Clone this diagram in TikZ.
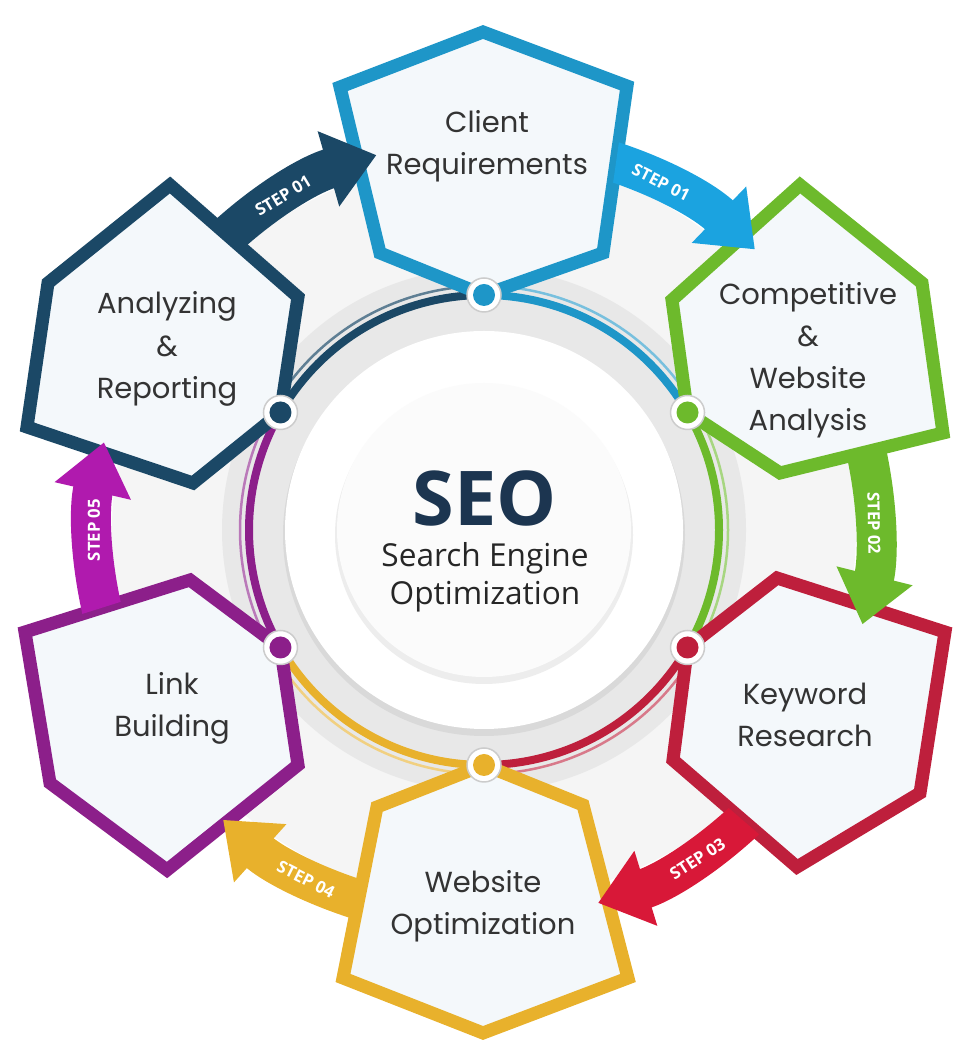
\documentclass[tikz,border=0pt]{standalone}
\usepackage{fontspec}
\setmainfont{Poppins}
\newfontfamily\seofont{Open Sans}
\usetikzlibrary{calc}
\usetikzlibrary{arrows.meta}

\definecolor{clientblue}{HTML}{1E96C8}
\definecolor{stepblue}{HTML}{1BA3E0}
\definecolor{darkteal}{HTML}{1B4866}
\definecolor{compgreen}{HTML}{6DBA2C}
\definecolor{keyred}{HTML}{BE1F3C}
\definecolor{stepred}{HTML}{D81838}
\definecolor{webyellow}{HTML}{E8B12C}
\definecolor{linkpurple}{HTML}{8C1F8A}
\definecolor{steppurple}{HTML}{B01AAE}
\definecolor{hexfill}{HTML}{F4F8FB}
\definecolor{seonavy}{HTML}{1C3550}

\tikzset{
  hexline/.style={line width=2.6mm, line join=miter, fill=hexfill},
  hexlabel/.style={align=center, text=black!80, font=\fontsize{16.5}{24}\selectfont},
  steparrow/.style={line width=8mm, -{Triangle[width=15mm,length=10mm]}},
  steplabel/.style={text=white, font=\seofont\bfseries\fontsize{9.5}{11}\selectfont},
  ringarc/.style={line width=1.6mm},
  ringhalo/.style={line width=0.5mm}
}

\begin{document}
\begin{tikzpicture}[x=0.2mm, y=0.2mm]
  \useasboundingbox (0,0) rectangle (976,1064);
  \coordinate (O) at (484,534);

  % background disks
  \fill[gray!8] (O) circle (372);
  \fill[gray!18] (O) circle (262);
  \fill[gray!30] ($(O)+(0,-5)$) circle (201);
  \fill[white] (O) circle (199);
  \fill[gray!14] ($(O)+(0,-5)$) circle (149);
  \fill[gray!3] (O) circle (147);

  % ring between the steps
  \draw[ringarc, darkteal] ($(O)+(150:235)$) arc[start angle=150, end angle=90, radius=235];
  \draw[ringarc, clientblue] ($(O)+(90:235)$) arc[start angle=90, end angle=30, radius=235];
  \draw[ringarc, compgreen] ($(O)+(30:235)$) arc[start angle=30, end angle=-30, radius=235];
  \draw[ringarc, keyred] ($(O)+(-30:235)$) arc[start angle=-30, end angle=-90, radius=235];
  \draw[ringarc, webyellow] ($(O)+(-90:235)$) arc[start angle=-90, end angle=-150, radius=235];
  \draw[ringarc, linkpurple] ($(O)+(-150:235)$) arc[start angle=-150, end angle=-210, radius=235];
  \draw[ringhalo, darkteal!70] ($(O)+(150:244)$) arc[start angle=150, end angle=90, radius=244];
  \draw[ringhalo, clientblue!60] ($(O)+(90:244)$) arc[start angle=90, end angle=30, radius=244];
  \draw[ringhalo, compgreen!60] ($(O)+(30:244)$) arc[start angle=30, end angle=-30, radius=244];
  \draw[ringhalo, keyred!60] ($(O)+(-30:244)$) arc[start angle=-30, end angle=-90, radius=244];
  \draw[ringhalo, webyellow!60] ($(O)+(-90:244)$) arc[start angle=-90, end angle=-150, radius=244];
  \draw[ringhalo, linkpurple!60] ($(O)+(-150:244)$) arc[start angle=-150, end angle=-210, radius=244];

  % hexagon corners
  \coordinate (cl-1) at (483,1032);
  \coordinate (cl-2) at (627,978);
  \coordinate (cl-3) at (603,811);
  \coordinate (cl-4) at ($(O)+(90:235)$);
  \coordinate (cl-5) at (380,811);
  \coordinate (cl-6) at (340,977);

  \coordinate (cp-1) at (800,879);
  \coordinate (cp-2) at (922,781);
  \coordinate (cp-3) at (943,631);
  \coordinate (cp-4) at (780,591);
  \coordinate (cp-5) at ($(O)+(30:235)$);
  \coordinate (cp-6) at (672,764);

  \coordinate (kw-1) at (777,486);
  \coordinate (kw-2) at (945,432);
  \coordinate (kw-3) at (920,271);
  \coordinate (kw-4) at (797,197);
  \coordinate (kw-5) at (673,304);
  \coordinate (kw-6) at ($(O)+(-30:235)$);

  \coordinate (wo-1) at ($(O)+(-90:235)$);
  \coordinate (wo-2) at (583,259);
  \coordinate (wo-3) at (628,86);
  \coordinate (wo-4) at (483,31);
  \coordinate (wo-5) at (343,86);
  \coordinate (wo-6) at (377,257);

  \coordinate (lb-1) at (190,484);
  \coordinate (lb-2) at ($(O)+(-150:235)$);
  \coordinate (lb-3) at (298,299);
  \coordinate (lb-4) at (167,194);
  \coordinate (lb-5) at (50,281);
  \coordinate (lb-6) at (25,432);

  \coordinate (ar-1) at (170,879);
  \coordinate (ar-2) at (298,767);
  \coordinate (ar-3) at ($(O)+(150:235)$);
  \coordinate (ar-4) at (193,581);
  \coordinate (ar-5) at (27,637);
  \coordinate (ar-6) at (48,781);

  % hexagons
  \draw[hexline, draw=clientblue] (cl-1) -- (cl-2) -- (cl-3) -- (cl-4) -- (cl-5) -- (cl-6) -- cycle;
  \draw[hexline, draw=compgreen] (cp-1) -- (cp-2) -- (cp-3) -- (cp-4) -- (cp-5) -- (cp-6) -- cycle;
  \draw[hexline, draw=keyred] (kw-1) -- (kw-2) -- (kw-3) -- (kw-4) -- (kw-5) -- (kw-6) -- cycle;
  \draw[hexline, draw=webyellow] (wo-1) -- (wo-2) -- (wo-3) -- (wo-4) -- (wo-5) -- (wo-6) -- cycle;
  \draw[hexline, draw=linkpurple] (lb-1) -- (lb-2) -- (lb-3) -- (lb-4) -- (lb-5) -- (lb-6) -- cycle;
  \draw[hexline, draw=darkteal] (ar-1) -- (ar-2) -- (ar-3) -- (ar-4) -- (ar-5) -- (ar-6) -- cycle;

  \node[hexlabel] (client) at (487,918) {Client\\Requirements};
  \node[hexlabel] (comp) at (808,704) {Competitive\\\&\\Website\\Analysis};
  \node[hexlabel] (keyw) at (805,349) {Keyword\\Research};
  \node[hexlabel] (webopt) at (483,158) {Website\\Optimization};
  \node[hexlabel] (link) at (172,356) {Link\\Building};
  \node[hexlabel] (analyz) at (167,715) {Analyzing\\\&\\Reporting};

  % step arrows, each one starting under its own hexagon
  \begin{scope}[even odd rule]
    \clip (0,0) rectangle (976,1064) (ar-1) -- (ar-2) -- (ar-3) -- (ar-4) -- (ar-5) -- (ar-6) -- cycle;
    \draw[steparrow, darkteal] ($(O)+(140:390)$) arc[start angle=140, end angle=106, radius=390];
    \node[steplabel, rotate=31] (s1) at ($(O)+(121:390)$) {STEP 01};
  \end{scope}
  \begin{scope}[even odd rule]
    \clip (0,0) rectangle (976,1064) (cl-1) -- (cl-2) -- (cl-3) -- (cl-4) -- (cl-5) -- (cl-6) -- cycle;
    \draw[steparrow, stepblue] ($(O)+(80:390)$) arc[start angle=80, end angle=46, radius=390];
    \node[steplabel, rotate=-27] (s2) at ($(O)+(63:390)$) {STEP 01};
  \end{scope}
  \begin{scope}[even odd rule]
    \clip (0,0) rectangle (976,1064) (cp-1) -- (cp-2) -- (cp-3) -- (cp-4) -- (cp-5) -- (cp-6) -- cycle;
    \draw[steparrow, compgreen] ($(O)+(18:390)$) arc[start angle=18, end angle=-14, radius=390];
    \node[steplabel, rotate=-89] (s3) at ($(O)+(1:390)$) {STEP 02};
  \end{scope}
  \begin{scope}[even odd rule]
    \clip (0,0) rectangle (976,1064) (kw-1) -- (kw-2) -- (kw-3) -- (kw-4) -- (kw-5) -- (kw-6) -- cycle;
    \draw[steparrow, stepred] ($(O)+(-40:390)$) arc[start angle=-40, end angle=-73, radius=390];
    \node[steplabel, rotate=33] (s4) at ($(O)+(-57:392)$) {STEP 03};
  \end{scope}
  \begin{scope}[even odd rule]
    \clip (0,0) rectangle (976,1064) (wo-1) -- (wo-2) -- (wo-3) -- (wo-4) -- (wo-5) -- (wo-6) -- cycle;
    \draw[steparrow, webyellow] ($(O)+(-100:390)$) arc[start angle=-100, end angle=-132, radius=390];
    \node[steplabel, rotate=-27] (s5) at ($(O)+(-117:392)$) {STEP 04};
  \end{scope}
  \begin{scope}[even odd rule]
    \clip (0,0) rectangle (976,1064) (lb-1) -- (lb-2) -- (lb-3) -- (lb-4) -- (lb-5) -- (lb-6) -- cycle;
    \draw[steparrow, steppurple] ($(O)+(200:390)$) arc[start angle=200, end angle=167, radius=390];
    \node[steplabel, rotate=90] (s6) at ($(O)+(180:390)$) {STEP 05};
  \end{scope}

  % dots on the ring
  \foreach \ang/\col in {90/clientblue, 30/compgreen, -30/keyred, -90/webyellow, -150/linkpurple, 150/darkteal} {
    \fill[white] ($(O)+(\ang:235)$) circle (17);
    \draw[gray!40, line width=0.3mm] ($(O)+(\ang:235)$) circle (17);
    \fill[\col] ($(O)+(\ang:235)$) circle (11);
  }

  % centre text
  \node[text=seonavy, font=\seofont\bfseries\fontsize{43}{46}\selectfont] (seo) at (485,566) {SEO};
  \node[align=center, text=black!85, font=\seofont\fontsize{18}{21.5}\selectfont] (seoname) at (485,487) {Search Engine\\Optimization};
\end{tikzpicture}
\end{document}
